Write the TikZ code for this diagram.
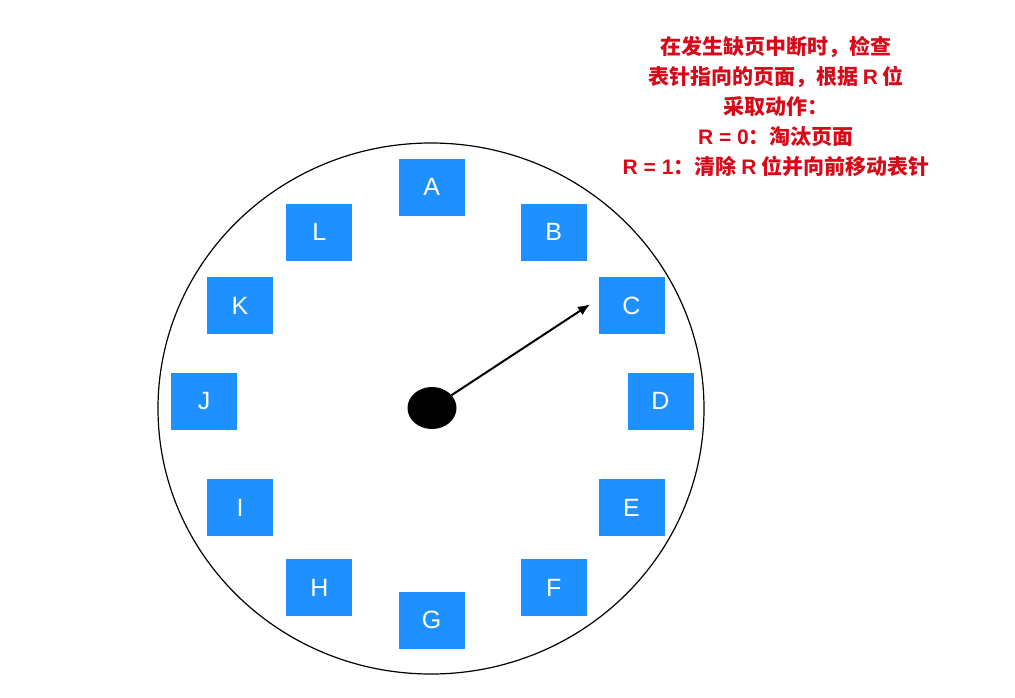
\documentclass[tikz,border=0pt]{standalone}
\usepackage{fontspec}
\usepackage{xcolor}
\usepackage{tikz}
\usetikzlibrary{arrows.meta,shapes.geometric}
\setmainfont{Liberation Sans}
\newfontfamily\cjk{Noto Sans CJK SC}
\newcommand\lat[1]{{\normalfont\bfseries #1}}
\definecolor{pageblue}{RGB}{30,144,255}
\definecolor{notered}{RGB}{215,10,25}

\begin{document}
\begin{tikzpicture}[x=1pt, y=-1pt,
    page/.style={fill=pageblue, text=white, minimum width=66pt, minimum height=57pt, inner sep=0pt, font=\fontsize{25}{25}\selectfont},
    hand/.style={-{Latex[length=12pt, width=10pt]}, line width=2pt}]
    \useasboundingbox (0,0) rectangle (1015,697);
    \draw[line width=1.2pt] (431,408.5) ellipse [x radius=273, y radius=265.5];
    \node[page] (A) at (431.7,187.3) {A};
    \node[page] (B) at (553.8,232) {B};
    \node[page] (C) at (631.5,305.5) {C};
    \node[page] (D) at (660.5,401) {D};
    \node[page] (E) at (631.5,507.6) {E};
    \node[page] (F) at (553.8,587.7) {F};
    \node[page] (G) at (431.7,620.3) {G};
    \node[page] (H) at (319.4,587.7) {H};
    \node[page] (I) at (240,507.6) {I};
    \node[page] (J) at (204,401) {J};
    \node[page] (K) at (240,305.5) {K};
    \node[page] (L) at (319.4,232) {L};
    \node[ellipse, fill=black, inner sep=0pt, minimum width=49pt, minimum height=42pt] (hub) at (432,408) {};
    \coordinate (tip) at (590,304.3);
    \draw[hand] (hub) -- (tip);
    \node[text=notered, align=center, font=\cjk\bfseries\fontsize{21}{30}\selectfont] (note) at (776,106.5)
        {在发生缺页中断时，检查\\表针指向的页面，根据 \lat{R} 位\\采取动作：\\\lat{R = 0}：淘汰页面\\\lat{R = 1}：清除 \lat{R} 位并向前移动表针};
\end{tikzpicture}
\end{document}
